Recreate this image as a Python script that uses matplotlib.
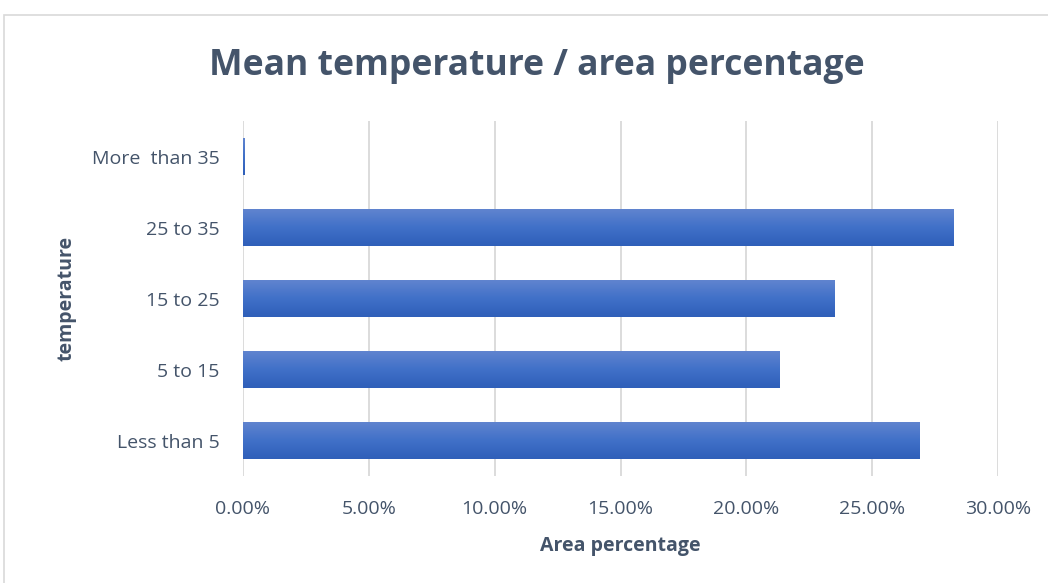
import matplotlib
matplotlib.use("Agg")
import matplotlib.pyplot as plt
import numpy as np
from matplotlib.patches import Rectangle
from matplotlib.ticker import FuncFormatter

categories = ["Less than 5", "5 to 15", "15 to 25", "25 to 35", "More  than 35"]
values = [26.90, 21.30, 23.52, 28.25, 0.05]
xticks = [0, 5, 10, 15, 20, 25, 30]

plt.rcParams['font.family'] = ['Open Sans', 'DejaVu Sans']

fig = plt.figure(figsize=(10.48, 5.83), dpi=100)
fig.patch.set_facecolor("white")
ax = fig.add_axes([243/1048, 1-476/583, (998-243)/1048, (476-121)/583])

# border of chart area
fig.patches.append(Rectangle((4/1048, -0.1), 1.2, 1-15/583+0.1, transform=fig.transFigure,
                             fill=False, edgecolor="#D9D9D9", linewidth=1.2))

y = np.arange(len(categories))
h = 0.52
bars = ax.barh(y, values, height=h, color="#4472C4", zorder=2)

# gradient fill (lighter on top)
grad = np.linspace(0, 1, 64).reshape(-1, 1)
cmap = matplotlib.colors.LinearSegmentedColormap.from_list("g", ["#6084CF", "#4070C8", "#2F5FB9"])
for b in bars:
    x0, y0, w, hh = b.get_x(), b.get_y(), b.get_width(), b.get_height()
    ax.imshow(grad, aspect="auto", cmap=cmap, extent=(x0, x0 + w, y0, y0 + hh),
              origin="upper", zorder=3)
    b.set_alpha(0)

ax.set_xlim(0, 30)
ax.set_ylim(-0.5, len(categories) - 0.5)
ax.set_xticks(xticks)
ax.xaxis.set_major_formatter(FuncFormatter(lambda v, p: f"{v:.2f}%"))
ax.set_yticks(y)
ax.set_yticklabels(categories)
ax.grid(axis="x", color="#D9D9D9", linewidth=1.3, zorder=0)
ax.set_axisbelow(True)
for s in ["top", "right", "bottom", "left"]:
    ax.spines[s].set_visible(False)
ax.tick_params(axis="both", length=0, colors="#44546A", labelsize=14)
ax.tick_params(axis="x", pad=17)
ax.tick_params(axis="y", pad=17)

ax.set_xlabel("Area percentage", fontsize=14, fontweight="bold", color="#44546A", labelpad=13)
ax.set_ylabel("temperature", fontsize=14, fontweight="bold", color="#44546A", labelpad=11)

fig.text(537/1048, 1-66/583, "Mean temperature / area percentage", ha="center", va="center",
         fontsize=25.6, fontweight="bold", color="#44546A")

fig.savefig("out.png", dpi=100, facecolor="white")
